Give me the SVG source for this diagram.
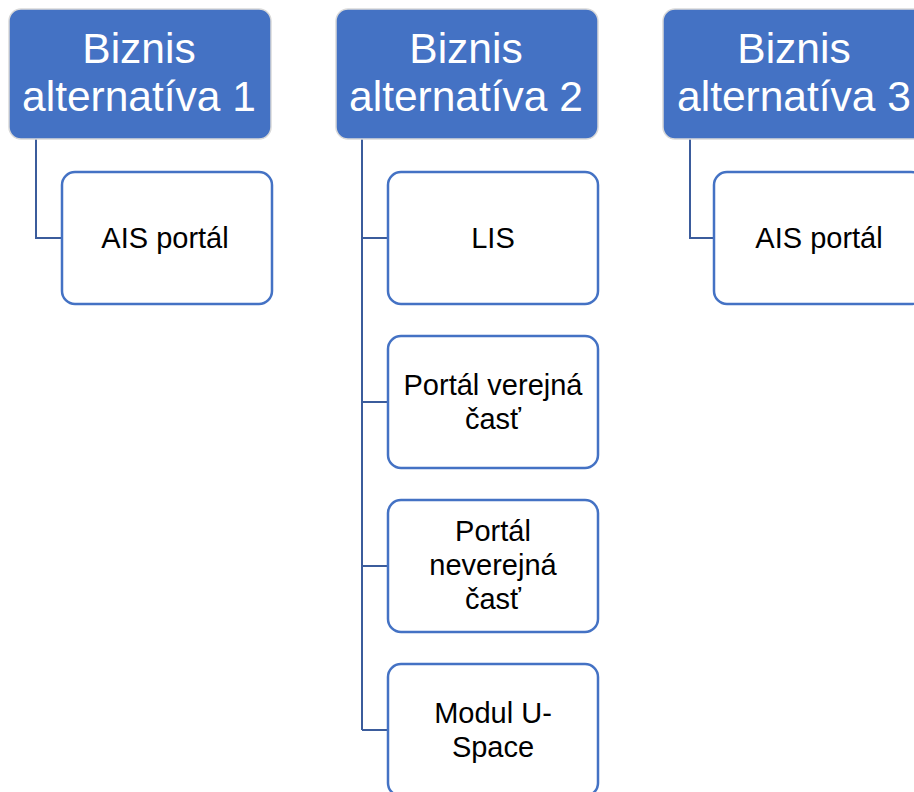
<svg xmlns="http://www.w3.org/2000/svg" width="914" height="792" viewBox="0 0 914 792">
  <style>
    .head rect { fill: #4472C4; stroke: #d9d9d9; stroke-width: 1.5; }
    .head text { fill: #ffffff; font-family: "Liberation Sans", Arial, sans-serif; font-size: 42.5px; text-anchor: middle; }
    .child rect { fill: #ffffff; stroke: #4472C4; stroke-width: 2.5; }
    .child text { fill: #000000; font-family: "Liberation Sans", Arial, sans-serif; font-size: 29px; text-anchor: middle; }
    .conn path { fill: none; stroke: #3B5C9C; stroke-width: 2; }
  </style>
  <rect width="914" height="792" fill="#ffffff"/>

  <!-- connectors -->
  <g id="connectors" class="conn">
    <path d="M36 139 V238 H62"/>
    <path d="M362 139 V730"/>
    <path d="M362 238 H388"/>
    <path d="M362 402 H388"/>
    <path d="M362 566 H388"/>
    <path d="M362 730 H388"/>
    <path d="M690 139 V238 H714"/>
  </g>

  <!-- column 1 -->
  <g id="alt1" class="head">
    <rect x="9" y="9" width="262" height="130" rx="12"/>
    <text x="139" y="63">Biznis</text>
    <text x="139" y="111">alternatíva 1</text>
  </g>
  <g id="alt1-ais" class="child">
    <rect x="62" y="172" width="210" height="132" rx="13"/>
    <text x="165" y="248">AIS portál</text>
  </g>

  <!-- column 2 -->
  <g id="alt2" class="head">
    <rect x="336" y="9" width="262" height="130" rx="12"/>
    <text x="466" y="63">Biznis</text>
    <text x="466" y="111">alternatíva 2</text>
  </g>
  <g id="alt2-lis" class="child">
    <rect x="388" y="172" width="210" height="132" rx="13"/>
    <text x="493" y="248">LIS</text>
  </g>
  <g id="alt2-public" class="child">
    <rect x="388" y="336" width="210" height="132" rx="13"/>
    <text x="493" y="395">Portál verejná</text>
    <text x="493" y="429">časť</text>
  </g>
  <g id="alt2-private" class="child">
    <rect x="388" y="500" width="210" height="132" rx="13"/>
    <text x="493" y="541">Portál</text>
    <text x="493" y="575">neverejná</text>
    <text x="493" y="609">časť</text>
  </g>
  <g id="alt2-uspace" class="child">
    <rect x="388" y="664" width="210" height="132" rx="13"/>
    <text x="493" y="723">Modul U-</text>
    <text x="493" y="757">Space</text>
  </g>

  <!-- column 3 -->
  <g id="alt3" class="head">
    <rect x="663" y="9" width="262" height="130" rx="12"/>
    <text x="794" y="63">Biznis</text>
    <text x="794" y="111">alternatíva 3</text>
  </g>
  <g id="alt3-ais" class="child">
    <rect x="714" y="172" width="210" height="132" rx="13"/>
    <text x="819" y="248">AIS portál</text>
  </g>
</svg>
